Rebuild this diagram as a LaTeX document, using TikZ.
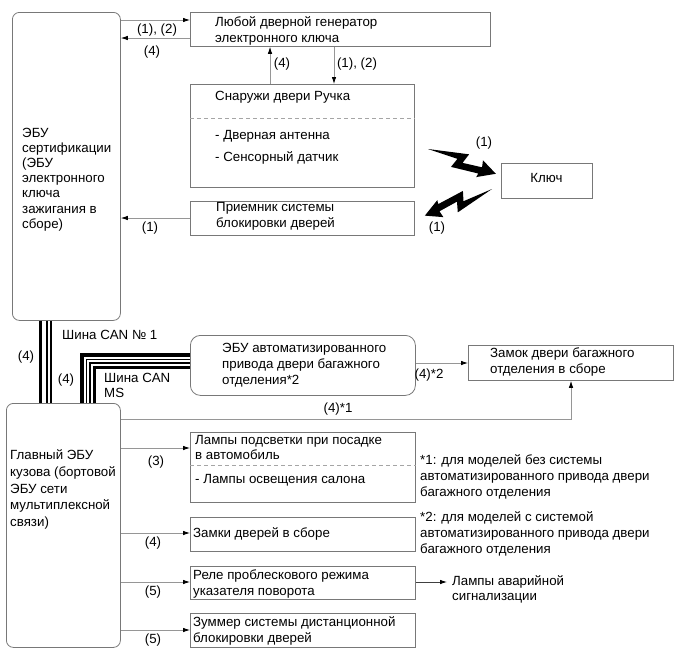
\documentclass[tikz,border=0pt]{standalone}
\usepackage{fontspec}
\setmainfont{Liberation Sans}
\usetikzlibrary{arrows.meta}
\definecolor{boxc}{RGB}{120,120,120}
\definecolor{linec}{RGB}{150,150,150}
\definecolor{dashc}{RGB}{165,165,165}
\begin{document}
\begin{tikzpicture}[x=1pt,y=-1pt,
  box/.style={draw=boxc, line width=0.8pt, inner sep=0pt, anchor=north west},
  rbox/.style={box, rounded corners=7pt},
  txt/.style={anchor=base west, inner sep=0pt, align=left, font=\fontsize{13.3}{16}\selectfont},
  lbl/.style={inner sep=0pt, font=\fontsize{13.3}{15}\selectfont},
  arr/.style={draw=linec, line width=0.8pt, -{Latex[length=7pt,width=4.5pt,color=black]}},
  dsh/.style={draw=dashc, line width=0.8pt, dash pattern=on 4pt off 3pt},
  thickbus/.style={draw=black, line width=3.5pt, line join=miter},
  thinbus/.style={draw=black, line width=1.1pt, line join=miter},
  bolt/.style={fill=black}]
\useasboundingbox (0,0) rectangle (690,659);

% boxes
\node[rbox, minimum width=108pt, minimum height=308pt] (cert) at (12,12) {};
\node[rbox, minimum width=114pt, minimum height=244pt] (main) at (6,403) {};
\node[box, minimum width=300pt, minimum height=34pt] (gen) at (190,12) {};
\node[box, minimum width=224pt, minimum height=103pt] (hdl) at (190,84) {};
\node[box, minimum width=91pt, minimum height=35pt] (key) at (501,163) {};
\node[box, minimum width=224pt, minimum height=34pt] (rcv) at (190,201) {};
\node[box, rounded corners=10pt, minimum width=225pt, minimum height=60pt] (tg) at (190,335) {};
\node[box, minimum width=205pt, minimum height=35pt] (lock) at (468,345) {};
\node[box, minimum width=225pt, minimum height=70pt] (lamp) at (190,432) {};
\node[box, minimum width=225pt, minimum height=34pt] (dlk) at (190,517) {};
\node[box, minimum width=225pt, minimum height=33pt] (rel) at (190,566) {};
\node[box, minimum width=225pt, minimum height=34pt] (zum) at (190,613) {};

% texts in boxes (base = baseline of the last line)
\node[txt, font=\fontsize{13.3}{15.2}\selectfont] (tcert) at (22,228.2) {ЭБУ\\сертификации\\(ЭБУ\\электронного\\ключа\\зажигания в\\сборе)};
\node[txt, font=\fontsize{13.3}{16.8}\selectfont] (tmain) at (10,526.7) {Главный ЭБУ\\кузова (бортовой\\ЭБУ сети\\мультиплексной\\связи)};
\node[txt] (tgen) at (215,42) {Любой дверной генератор\\электронного ключа};
\node[txt] (thdl) at (215,100) {Снаружи двери Ручка};
\node[txt, font=\fontsize{13.3}{22}\selectfont] (thdl2) at (215,161) {- Дверная антенна\\- Сенсорный датчик};
\node[txt, anchor=base] (tkey) at (546.5,182) {Ключ};
\node[txt] (trcv) at (216,227.5) {Приемник системы\\блокировки дверей};
\node[txt] (ttg) at (222,384) {ЭБУ автоматизированного\\привода двери багажного\\отделения*2};
\node[txt] (tlock) at (490,373) {Замок двери багажного\\отделения в сборе};
\node[txt, font=\fontsize{13.3}{15.5}\selectfont] (tlamp) at (195,459.5) {Лампы подсветки при посадке\\в автомобиль};
\node[txt] (tlamp2) at (195,483.5) {- Лампы освещения салона};
\node[txt] (tdlk) at (193,537) {Замки дверей в сборе};
\node[txt] (trel) at (193,595) {Реле проблескового режима\\указателя поворота};
\node[txt] (tzum) at (193,642) {Зуммер системы дистанционной\\блокировки дверей};
\node[txt, font=\fontsize{13.3}{15}\selectfont] (haz) at (452,600) {Лампы аварийной\\сигнализации};
\node[txt] (fn1) at (420,496) {*1: для моделей без системы\\автоматизированного привода двери\\багажного отделения};
\node[txt] (fn2) at (420,553) {*2: для моделей с системой\\автоматизированного привода двери\\багажного отделения};

% helper coordinates
\coordinate (y20) at (0,20);
\coordinate (y38) at (0,38);
\coordinate (x270) at (270,0);
\coordinate (x334) at (334,0);
\coordinate (y118) at (0,118);
\coordinate (y218) at (0,218);
\coordinate (y363) at (0,363);
\coordinate (y419) at (0,419);
\coordinate (x571) at (571,0);
\coordinate (y448) at (0,448);
\coordinate (y465) at (0,465);
\coordinate (y533) at (0,533);
\coordinate (y582) at (0,582);
\coordinate (y630) at (0,630);

% dashed separators
\draw[dsh] (hdl.west |- y118) -- (hdl.east |- y118);
\draw[dsh] (lamp.west |- y465) -- (lamp.east |- y465);

% connectors
\draw[arr] (cert.east |- y20) -- (gen.west |- y20);
\draw[arr] (gen.west |- y38) -- (cert.east |- y38);
\draw[arr] (hdl.north -| x270) -- (gen.south -| x270);
\draw[arr] (gen.south -| x334) -- (hdl.north -| x334);
\draw[arr] (rcv.west |- y218) -- (cert.east |- y218);
\draw[arr] (tg.east |- y363) -- (lock.west |- y363);
\draw[arr] (main.east |- y419) -| (lock.south -| x571);
\draw[arr] (main.east |- y448) -- (lamp.west |- y448);
\draw[arr] (main.east |- y533) -- (dlk.west |- y533);
\draw[arr] (main.east |- y582) -- (rel.west |- y582);
\draw[arr] (main.east |- y630) -- (zum.west |- y630);
\draw[arr, draw=black!75, shorten >=5pt] (rel.east |- y582) -- (haz.west |- y582);

% CAN bus No 1
\coordinate (bA) at (40.5,0);
\coordinate (bB) at (47,0);
\coordinate (bC) at (51,0);
\draw[thickbus] (cert.south -| bA) -- (main.north -| bA);
\draw[thinbus] (cert.south -| bB) -- (main.north -| bB);
\draw[thinbus] (cert.south -| bC) -- (main.north -| bC);

% CAN bus MS
\coordinate (m1) at (82,355);
\coordinate (m2) at (86.5,359.5);
\coordinate (m3) at (90,363);
\coordinate (m4) at (94.5,367.5);
\draw[thickbus] (main.north -| m1) -- (m1) -- (tg.west |- m1);
\draw[thinbus] (main.north -| m2) -- (m2) -- (tg.west |- m2);
\draw[thinbus] (main.north -| m3) -- (m3) -- (tg.west |- m3);
\draw[thickbus] (main.north -| m4) -- (m4) -- (tg.west |- m4);

% lightning bolts
\fill[bolt, shift={(428,149)}, rotate=-15.7] (0,0) -- (41,-6) -- (37,4) -- (57,3) -- (56,-4) -- (72,5.5) -- (54,14) -- (55,10) -- (27,11) -- (31,1.5) -- cycle;
\fill[bolt, shift={(492,189)}, rotate=206] (0,0) -- (41,-6) -- (37,4) -- (57,3) -- (56,-4) -- (72,5.5) -- (54,14) -- (55,10) -- (27,11) -- (31,1.5) -- cycle;

% labels
\node[lbl] (l1) at (157,30) {(1), (2)};
\node[lbl] (l2) at (152,52) {(4)};
\node[lbl] (l3) at (282,64) {(4)};
\node[lbl] (l4) at (357,64) {(1), (2)};
\node[lbl] (l5) at (484,143) {(1)};
\node[lbl] (l6) at (437,228) {(1)};
\node[lbl] (l7) at (150,228) {(1)};
\node[lbl, anchor=west] (l8) at (62,335) {Шина CAN № 1};
\node[lbl] (l9) at (26,357) {(4)};
\node[lbl] (l10) at (66,380) {(4)};
\node[txt, font=\fontsize{13.3}{15}\selectfont] (l11) at (104,397) {Шина CAN\\MS};
\node[lbl] (l12) at (429,375) {(4)*2};
\node[lbl] (l13) at (338,409) {(4)*1};
\node[lbl] (l14) at (156,462) {(3)};
\node[lbl] (l15) at (153,543) {(4)};
\node[lbl] (l16) at (153,592) {(5)};
\node[lbl] (l17) at (153,640) {(5)};
\end{tikzpicture}
\end{document}
